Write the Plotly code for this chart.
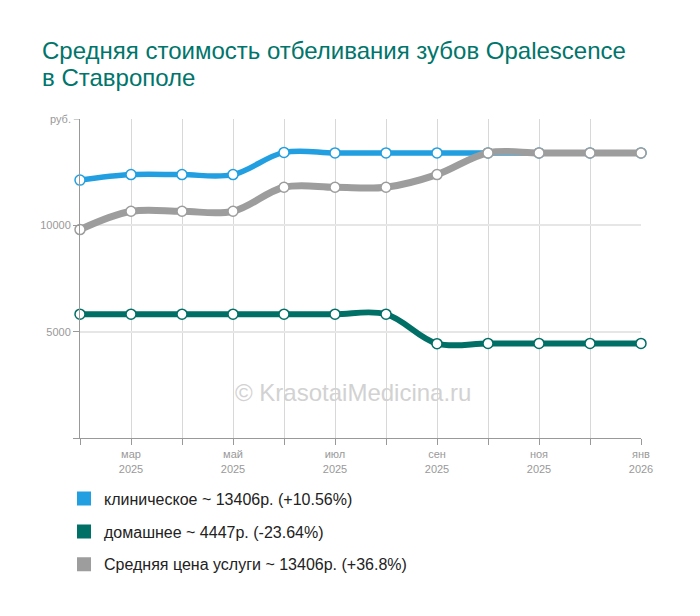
"""Средняя стоимость отбеливания зубов Opalescence в Ставрополе - line chart"""

import plotly.graph_objects as go

# months Feb 2025 .. Jan 2026, one point per month
months = list(range(12))
month_labels = ["", "мар<br>2025", "", "май<br>2025", "", "июл<br>2025",
                "", "сен<br>2025", "", "ноя<br>2025", "", "янв<br>2026"]

# prices, rub
clinical = [12126, 12385, 12385, 12385, 13430, 13406, 13406, 13406, 13406, 13406, 13406, 13406]
home = [5824, 5824, 5824, 5824, 5824, 5824, 5824, 4436, 4447, 4447, 4447, 4447]
average = [9800, 10660, 10660, 10660, 11790, 11790, 11790, 12385, 13406, 13406, 13406, 13406]

series_names = [
    "клиническое ~ 13406р. (+10.56%)",
    "домашнее ~ 4447р. (-23.64%)",
    "Средняя цена услуги ~ 13406р. (+36.8%)",
]
colors = ["#229fe0", "#006f66", "#9d9d9d"]
widths = [5.5, 6, 7]

fig = go.Figure()

for values, color, width in zip([clinical, home, average], colors, widths):
    fig.add_trace(go.Scatter(
        x=months, y=values,
        mode="lines+markers",
        line=dict(color=color, width=width, shape="spline", smoothing=1),
        marker=dict(size=10, color="white", line=dict(color=color, width=1.5)),
        cliponaxis=False,
        showlegend=False,
    ))

# legend entries as plain squares
for name, color in zip(series_names, colors):
    fig.add_trace(go.Scatter(
        x=[None], y=[None], mode="markers", name=name, legendgroup=name,
        marker=dict(symbol="square", size=14, color=color),
    ))

# the page body adds 8px on the left/top, margins account for it
fig.update_layout(
    width=700, height=616,
    margin=dict(l=72, r=67, t=111, b=186),
    plot_bgcolor="white", paper_bgcolor="white",
    font=dict(family="Liberation Sans, Arial", color="#999999"),
    showlegend=True,
    legend=dict(
        x=-0.0285, xanchor="left", y=-0.137, yanchor="top",
        font=dict(size=16, color="#222222"),
        tracegroupgap=9, itemclick=False,
    ),
)

fig.update_xaxes(
    range=[0, 11], tickvals=months, ticktext=month_labels,
    showgrid=True, gridcolor="#d8d8d8", gridwidth=1,
    showline=True, linecolor="#999999", linewidth=1,
    ticks="outside", ticklen=6, tickcolor="#999999",
    tickfont=dict(size=11, color="#999999"), zeroline=False,
)
fig.update_yaxes(
    range=[0, 15000], tickvals=[0, 5000, 10000], ticktext=["", "5000", "10000"],
    showgrid=True, gridcolor="#e6e6e6", gridwidth=2,
    showline=True, linecolor="#999999", linewidth=1,
    ticks="outside", ticklen=6, tickcolor="#999999",
    tickfont=dict(size=11, color="#999999"), zeroline=False,
)

# unit label at the top of the y axis
fig.add_annotation(x=0, xref="paper", y=15000, yref="y", text="руб.",
                   showarrow=False, xanchor="right", yanchor="middle", xshift=-7,
                   font=dict(size=11, color="#999999"))
fig.add_shape(type="line", xref="paper", yref="y", x0=-0.011, x1=0, y0=15000, y1=15000,
              line=dict(color="#999999", width=1))

# title, two lines
fig.add_annotation(x=-0.072, xref="paper", y=1.2163, yref="paper",
                   text="Средняя стоимость отбеливания зубов Opalescence",
                   showarrow=False, xanchor="left", yanchor="middle",
                   font=dict(size=24, color="#00756b"))
fig.add_annotation(x=-0.072, xref="paper", y=1.1287, yref="paper",
                   text="в Ставрополе",
                   showarrow=False, xanchor="left", yanchor="middle",
                   font=dict(size=24, color="#00756b"))

# watermark
fig.add_annotation(x=0.487, xref="paper", y=0.094, yref="paper",
                   text="© KrasotaiMedicina.ru", showarrow=False,
                   font=dict(size=24, color="#d2d2d2"))

fig.write_html("out.html")
